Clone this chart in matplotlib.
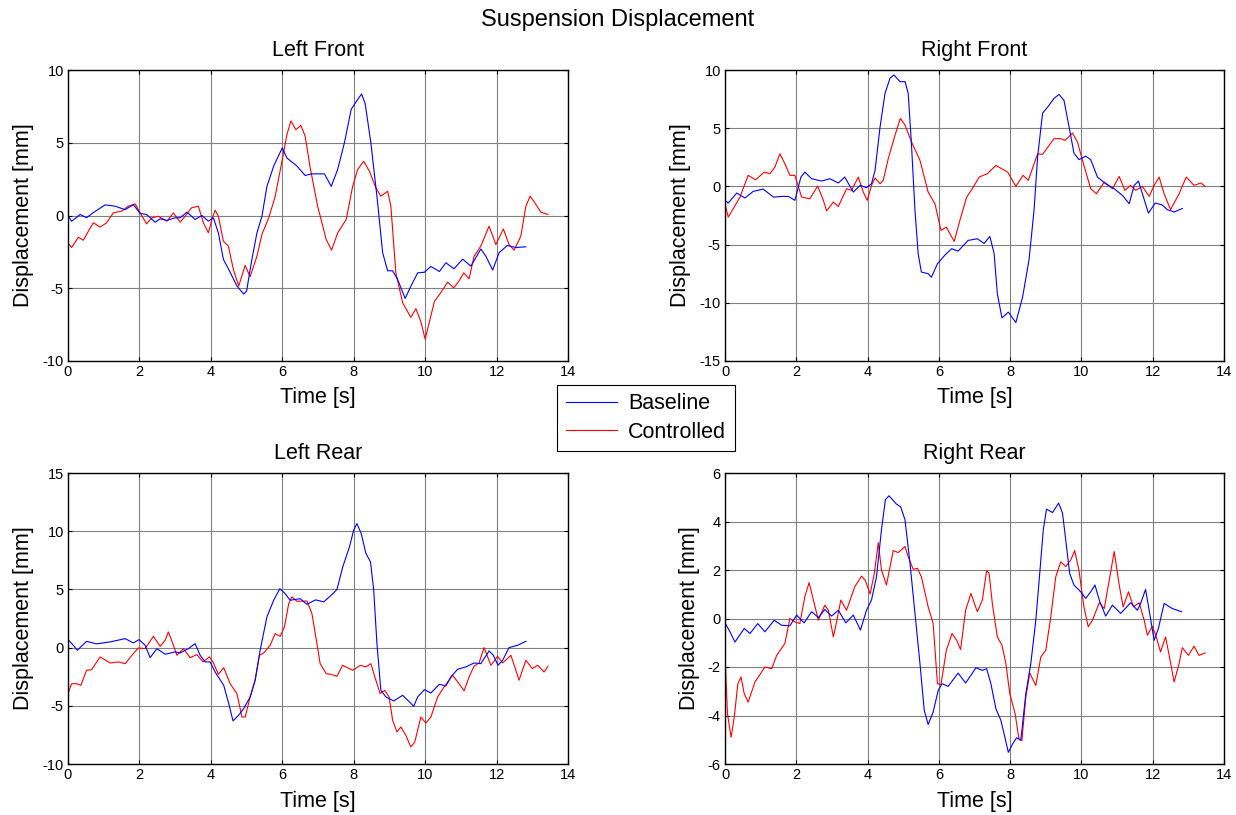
import matplotlib
matplotlib.use("Agg")
import matplotlib.pyplot as plt
from matplotlib.lines import Line2D

plt.rcParams['font.family'] = ['Liberation Sans', 'DejaVu Sans']
plt.rcParams['axes.unicode_minus'] = False

# ---- Left Front ----
lf_base_t = [0, 0.1, 0.34, 0.52, 0.71, 1.04, 1.32, 1.6, 1.83, 2.02, 2.2, 2.44, 2.58, 2.77, 3.0,
             3.14, 3.33, 3.56, 3.75, 3.93, 4.07, 4.21, 4.35, 4.54, 4.73, 4.92, 5.0, 5.15, 5.29,
             5.43, 5.57, 5.76, 6.0, 6.13, 6.41, 6.64, 6.81, 7.18, 7.37, 7.55, 7.74, 7.93, 8.11,
             8.22, 8.32, 8.48, 8.67, 8.81, 8.95, 9.09, 9.23, 9.44, 9.6, 9.79, 9.98, 10.16, 10.4,
             10.58, 10.81, 11.05, 11.28, 11.56, 11.7, 11.89, 12.07, 12.3, 12.54, 12.82]
lf_base_v = [0, -0.4, 0.07, -0.15, 0.2, 0.73, 0.64, 0.4, 0.75, 0.14, 0.07, -0.46, -0.23, -0.34, -0.16,
             -0.16, 0.23, -0.27, 0, -0.39, -0.16, -1.19, -3.0, -3.9, -4.85, -5.4, -5.2, -3.0, -1.2,
             -0.05, 2.0, 3.4, 4.65, 3.95, 3.4, 2.75, 2.86, 2.86, 2.0, 3.16, 5.0, 7.3, 7.97,
             8.35, 7.7, 5.0, 0.87, -2.56, -3.8, -3.8, -4.4, -5.7, -4.86, -3.94, -3.9, -3.5, -3.85,
             -3.25, -3.66, -3.0, -3.48, -2.3, -2.8, -3.75, -2.56, -2.06, -2.2, -2.15]
lf_ctrl_t = [0, 0.1, 0.29, 0.43, 0.57, 0.71, 0.9, 1.08, 1.27, 1.5, 1.69, 1.88, 2.02, 2.2, 2.35,
             2.53, 2.77, 2.95, 3.14, 3.28, 3.46, 3.65, 3.79, 3.93, 4.03, 4.12, 4.21, 4.35, 4.49,
             4.63, 4.78, 4.96, 5.1, 5.29, 5.43, 5.62, 5.8, 6.0, 6.13, 6.24, 6.38, 6.52, 6.64,
             6.78, 6.99, 7.23, 7.38, 7.55, 7.79, 7.97, 8.11, 8.28, 8.44, 8.62, 8.76, 8.95, 9.04,
             9.18, 9.37, 9.6, 9.74, 9.88, 10.0, 10.12, 10.26, 10.44, 10.63, 10.8, 10.95, 11.08,
             11.23, 11.37, 11.56, 11.79, 11.98, 12.19, 12.35, 12.49, 12.68, 12.82, 12.94, 13.07,
             13.24, 13.44]
lf_ctrl_v = [-1.9, -2.2, -1.5, -1.7, -1.08, -0.5, -0.8, -0.5, 0.18, 0.3, 0.64, 0.8, 0.18, -0.57, -0.16,
             -0.05, -0.39, 0.18, -0.46, -0.05, 0.53, 0.64, -0.5, -1.19, -0.27, 0.37, -0.05, -1.76, -2.1,
             -3.7, -4.85, -3.43, -4.2, -2.8, -1.3, -0.16, 1.3, 3.84, 5.56, 6.5, 5.9, 6.2, 5.45,
             3.3, 0.64, -1.65, -2.38, -1.2, -0.27, 2.0, 3.16, 3.73, 3.04, 1.9, 1.33, 1.67, 0.64,
             -3.94, -6.0, -7.0, -6.4, -7.3, -8.5, -7.3, -5.9, -5.3, -4.58, -4.97, -4.5, -3.94,
             -4.35, -2.8, -2.1, -0.73, -2.0, -0.92, -2.0, -2.38, -1.42, 0.64, 1.33, 0.87,
             0.23, 0.07]

# ---- Right Front ----
rf_base_t = [0, 0.09, 0.33, 0.56, 0.79, 1.07, 1.36, 1.59, 1.78, 1.96, 2.13, 2.24, 2.43, 2.71, 2.94,
             3.18, 3.36, 3.6, 3.79, 3.97, 4.11, 4.21, 4.35, 4.49, 4.63, 4.74, 4.91, 5.05, 5.14,
             5.23, 5.33, 5.42, 5.51, 5.7, 5.79, 5.96, 6.17, 6.36, 6.54, 6.82, 7.08, 7.27, 7.43,
             7.55, 7.64, 7.77, 7.95, 8.16, 8.35, 8.53, 8.67, 8.77, 8.91, 9.05, 9.23, 9.37, 9.51,
             9.65, 9.79, 9.93, 10.12, 10.26, 10.45, 10.68, 10.92, 11.15, 11.34, 11.48, 11.6,
             11.71, 11.88, 12.07, 12.27, 12.41, 12.6, 12.83]
rf_base_v = [-1.2, -1.43, -0.57, -1.0, -0.43, -0.23, -0.92, -0.86, -0.86, -1.2, 0.8, 1.23, 0.66, 0.46, 0.66,
             0.29, 0.8, -0.49, 0.09, -0.11, 0.23, 1.38, 5.1, 8.0, 9.3, 9.57, 9.0, 9.0, 8.0,
             3.7, -2.06, -5.8, -7.36, -7.5, -7.8, -6.65, -5.9, -5.35, -5.56, -4.64, -4.5, -4.9, -4.3,
             -5.76, -9.2, -11.3, -10.8, -11.7, -9.5, -6.3, -2.06, 2.5, 6.3, 6.8, 7.56, 7.9, 7.4,
             5.16, 2.86, 2.3, 2.6, 2.3, 0.8, 0.23, -0.2, -0.77, -1.49, 0.09, 0.46,
             -0.63, -2.3, -1.43, -1.6, -2.0, -2.2, -1.9]
rf_ctrl_t = [0, 0.09, 0.23, 0.42, 0.65, 0.86, 1.1, 1.26, 1.4, 1.54, 1.68, 1.82, 1.96, 2.15, 2.38,
             2.6, 2.76, 2.85, 3.04, 3.18, 3.41, 3.55, 3.74, 3.88, 3.99, 4.11, 4.21, 4.35, 4.44,
             4.58, 4.77, 4.92, 5.05, 5.23, 5.47, 5.7, 5.89, 6.06, 6.21, 6.43, 6.59, 6.78, 6.94,
             7.13, 7.36, 7.6, 7.93, 8.16, 8.36, 8.51, 8.77, 8.91, 9.23, 9.42, 9.54, 9.75, 9.89,
             10.07, 10.26, 10.42, 10.64, 10.87, 11.06, 11.22, 11.38, 11.52, 11.71, 11.9, 12.04,
             12.18, 12.32, 12.5, 12.74, 12.94, 13.16, 13.35, 13.47]
rf_ctrl_v = [-1.5, -2.64, -1.92, -0.92, 0.95, 0.57, 1.23, 1.09, 1.66, 2.8, 1.95, 0.95, 0.95, -0.92, -1.06,
             0.03, -1.2, -2.1, -1.35, -1.72, -0.2, -0.34, 0.8, -0.49, -1.2, 0.09, 0.72, 0.23, 0.52,
             2.38, 4.4, 5.84, 5.27, 3.84, 2.24, -0.49, -1.49, -3.78, -3.5, -4.73, -2.92, -0.92, -0.2,
             0.8, 1.09, 1.8, 1.23, 0.0, 0.95, 0.52, 2.8, 2.75, 4.1, 4.1, 3.95, 4.58, 3.8,
             1.8, -0.2, -0.63, 0.37, -0.2, 0.86, -0.34, 0.09, -0.34, 0.0, -0.86, 0.09,
             0.8, -0.63, -2.0, -0.63, 0.8, 0.09, 0.29, 0.0]

# ---- Left Rear ----
lr_base_t = [0, 0.15, 0.26, 0.52, 0.8, 1.18, 1.6, 1.83, 1.99, 2.16, 2.3, 2.49, 2.72, 3.0, 3.14,
             3.37, 3.56, 3.7, 3.84, 3.98, 4.12, 4.36, 4.5, 4.62, 4.78, 4.92, 5.1, 5.24, 5.38,
             5.57, 5.76, 5.93, 6.08, 6.22, 6.5, 6.69, 6.93, 7.16, 7.37, 7.53, 7.69, 7.88, 8.0,
             8.09, 8.21, 8.34, 8.47, 8.56, 8.65, 8.76, 8.9, 9.12, 9.37, 9.56, 9.68, 9.79, 9.98,
             10.16, 10.4, 10.58, 10.72, 10.91, 11.14, 11.37, 11.56, 11.79, 11.91, 12.04, 12.17,
             12.35, 12.59, 12.82]
lr_base_v = [0.69, 0.2, -0.23, 0.54, 0.32, 0.49, 0.77, 0.4, 0.69, 0.2, -0.86, -0.09, -0.57, -0.37, -0.46,
             -0.09, 0.34, -0.66, -1.23, -1.23, -2.1, -3.24, -4.8, -6.3, -5.8, -5.24, -4.24, -2.8, -0.23,
             2.64, 4.07, 5.06, 4.64, 4.07, 4.2, 3.72, 4.1, 3.93, 4.5, 4.99, 6.9, 8.65, 10.1,
             10.66, 9.8, 8.1, 7.36, 4.93, 0.34, -3.67, -4.24, -4.58, -4.1, -4.67, -5.04, -4.24, -3.61,
             -3.9, -3.15, -3.3, -2.52, -1.86, -1.66, -1.32, -1.38, -0.29, -0.66, -1.52, -1.09,
             0.0, 0.2, 0.54]
lr_ctrl_t = [0, 0.1, 0.24, 0.36, 0.52, 0.66, 0.9, 1.18, 1.41, 1.6, 1.79, 1.97, 2.16, 2.39, 2.58,
             2.72, 2.81, 2.9, 3.05, 3.23, 3.42, 3.61, 3.78, 3.96, 4.06, 4.21, 4.36, 4.54, 4.73,
             4.87, 4.96, 5.1, 5.24, 5.36, 5.48, 5.66, 5.8, 5.94, 6.06, 6.18, 6.27, 6.41, 6.69,
             6.83, 6.97, 7.06, 7.23, 7.37, 7.53, 7.69, 7.97, 8.19, 8.34, 8.48, 8.62, 8.74, 8.87,
             8.99, 9.09, 9.21, 9.32, 9.46, 9.6, 9.71, 9.88, 10.02, 10.16, 10.35, 10.53, 10.77,
             10.95, 11.09, 11.23, 11.37, 11.51, 11.65, 11.84, 12.03, 12.17, 12.4, 12.51, 12.63,
             12.82, 13.0, 13.15, 13.33, 13.44]
lr_ctrl_v = [-3.95, -3.1, -3.1, -3.24, -1.95, -1.9, -0.8, -1.32, -1.23, -1.38, -0.66, -0.03, -0.09, 0.97, 0.11,
             0.63, 1.35, 0.63, -0.66, -0.09, -0.86, -0.6, -1.23, -0.8, -1.23, -2.3, -1.72, -3.1, -3.95,
             -5.96, -5.96, -4.24, -2.8, -0.66, -0.46, 0.2, 1.2, 0.97, 1.78, 3.78, 4.36, 3.98, 4.0,
             2.92, 0.34, -1.38, -2.24, -2.3, -2.47, -1.52, -1.95, -1.52, -1.66, -1.38, -2.8, -3.95, -3.67,
             -4.24, -6.25, -7.25, -6.82, -7.54, -8.54, -8.11, -5.96, -6.48, -5.96, -4.24, -3.38, -2.38,
             -3.1, -3.72, -2.52, -1.6, -1.32, 0.0, -1.52, -0.75, -1.32, -0.66, -1.66, -2.8,
             -1.09, -1.8, -1.52, -2.09, -1.6]

# ---- Right Rear ----
rr_base_t = [0, 0.14, 0.28, 0.54, 0.7, 0.92, 1.12, 1.38, 1.59, 1.82, 2.01, 2.22, 2.43, 2.62, 2.8,
             2.99, 3.18, 3.39, 3.6, 3.8, 3.97, 4.11, 4.25, 4.39, 4.5, 4.6, 4.81, 4.93, 5.05,
             5.19, 5.33, 5.47, 5.59, 5.7, 5.84, 5.98, 6.09, 6.26, 6.54, 6.75, 6.9, 7.04, 7.22,
             7.34, 7.46, 7.6, 7.74, 7.83, 7.95, 8.07, 8.18, 8.3, 8.44, 8.58, 8.72, 8.83, 8.93,
             9.02, 9.19, 9.36, 9.47, 9.56, 9.67, 9.79, 9.98, 10.12, 10.26, 10.38, 10.5, 10.68,
             10.87, 11.1, 11.38, 11.57, 11.66, 11.8, 11.9, 12.04, 12.16, 12.32, 12.55, 12.81]
rr_base_v = [-0.18, -0.55, -0.97, -0.41, -0.62, -0.21, -0.55, -0.07, -0.28, -0.3, 0.14, -0.18, 0.28, 0.04, 0.37,
             0.1, 0.34, -0.18, 0.14, -0.48, 0.34, 0.76, 1.72, 3.66, 4.9, 5.06, 4.72, 4.6, 4.07,
             2.28, 0.21, -1.86, -3.79, -4.37, -3.86, -2.97, -2.69, -2.8, -2.25, -2.66, -2.34, -2.03, -2.14,
             -2.07, -2.69, -3.72, -4.2, -4.76, -5.52, -5.17, -4.92, -5.0, -3.1, -1.86, -0.07, 1.86, 3.66,
             4.51, 4.37, 4.76, 4.34, 3.24, 1.86, 1.38, 1.1, 0.83, 1.1, 1.38, 0.76, 0.1,
             0.55, 0.21, 0.65, 0.34, 0.62, 1.2, 0.34, -0.9, -0.41, 0.62, 0.41, 0.28]
rr_ctrl_t = [0, 0.07, 0.17, 0.26, 0.36, 0.45, 0.54, 0.65, 0.84, 1.12, 1.31, 1.45, 1.68, 1.82, 1.96,
             2.1, 2.24, 2.36, 2.48, 2.62, 2.8, 2.9, 3.04, 3.13, 3.25, 3.41, 3.64, 3.83, 3.94,
             4.07, 4.19, 4.3, 4.39, 4.53, 4.72, 4.86, 5.05, 5.14, 5.28, 5.4, 5.51, 5.7, 5.84,
             5.96, 6.06, 6.21, 6.37, 6.5, 6.61, 6.75, 6.9, 7.08, 7.22, 7.34, 7.41, 7.5, 7.64,
             7.77, 7.88, 7.99, 8.14, 8.25, 8.33, 8.44, 8.55, 8.72, 8.86, 9.0, 9.14, 9.28, 9.42,
             9.56, 9.7, 9.81, 9.93, 10.07, 10.19, 10.31, 10.5, 10.64, 10.78, 10.92, 11.06, 11.17,
             11.32, 11.46, 11.62, 11.76, 11.85, 11.99, 12.1, 12.22, 12.36, 12.48, 12.6, 12.74,
             12.83, 13.0, 13.16, 13.3, 13.47]
rr_ctrl_v = [-1.52, -3.93, -4.9, -4.07, -2.69, -2.41, -3.1, -3.45, -2.62, -2.0, -2.07, -1.52, -1.03, 0.0, -0.14,
             -0.21, 0.9, 1.48, 0.76, -0.07, 0.55, 0.34, -0.76, -0.14, 0.76, 0.34, 1.31, 1.75, 1.56,
             1.01, 1.86, 3.13, 2.0, 1.38, 2.8, 2.72, 2.97, 2.55, 2.03, 2.07, 1.72, 0.48, -0.21,
             -2.69, -2.72, -1.31, -0.62, -0.9, -1.28, 0.34, 1.03, 0.28, 0.76, 1.97, 1.86, 0.62, -0.76,
             -1.1, -1.86, -3.1, -3.93, -5.0, -5.03, -3.24, -2.25, -2.76, -1.59, -1.31, 0.07, 1.72, 2.34,
             2.14, 2.41, 2.8, 2.0, 0.48, -0.34, -0.07, 0.65, 0.41, 1.58, 2.76, 1.38, 0.48,
             1.1, 0.48, 0.65, -0.07, -0.69, -0.32, -0.76, -1.38, -0.76, -1.66, -2.62, -1.86,
             -1.2, -1.52, -1.14, -1.52, -1.42]

titles = ["Left Front", "Right Front", "Left Rear", "Right Rear"]
ylims = [(-10, 10), (-15, 10), (-10, 15), (-6, 6)]
ysteps = [5, 5, 5, 2]

series = [
    (lf_base_t, lf_base_v, lf_ctrl_t, lf_ctrl_v),
    (rf_base_t, rf_base_v, rf_ctrl_t, rf_ctrl_v),
    (lr_base_t, lr_base_v, lr_ctrl_t, lr_ctrl_v),
    (rr_base_t, rr_base_v, rr_ctrl_t, rr_ctrl_v),
]

W, H = 1236, 815
# axes boxes in pixels: left, top, right, bottom
boxes = [(68, 70, 568, 361), (725, 70, 1224, 361),
         (68, 473, 568, 764), (725, 473, 1224, 764)]

fig = plt.figure(figsize=(W / 100, H / 100), dpi=100)

for i, (bt, bv, ct, cv) in enumerate(series):
    l, t, r, b = boxes[i]
    ax = fig.add_axes([l / W, 1 - b / H, (r - l) / W, (b - t) / H])
    ax.plot(ct, cv, color='red', lw=0.8)
    ax.plot(bt, bv, color='blue', lw=0.8)
    ax.set_xlim(0, 14)
    ax.set_xticks(range(0, 15, 2))
    lo, hi = ylims[i]
    ax.set_ylim(lo, hi)
    ax.set_yticks(range(lo, hi + 1, ysteps[i]))
    ax.grid(True, color='#808080', lw=0.8)
    ax.set_axisbelow(True)
    ax.tick_params(direction='in', length=3, top=True, right=True, labelsize=10.5, pad=3)
    for s in ax.spines.values():
        s.set_linewidth(1.0)
    ax.set_title(titles[i], fontsize=15.5, pad=10)
    ax.set_xlabel("Time [s]", fontsize=15.5, labelpad=6)
    ax.set_ylabel("Displacement [mm]", fontsize=15.5, labelpad=6)

fig.suptitle("Suspension Displacement", fontsize=17, y=1 - 20 / H, va='center')

handles = [Line2D([], [], color='blue', lw=0.8), Line2D([], [], color='red', lw=0.8)]
leg = fig.legend(handles, ["Baseline", "Controlled"], loc='center',
                 bbox_to_anchor=(646 / W, 1 - 418 / H), fontsize=15.5,
                 fancybox=False, framealpha=1, edgecolor='black',
                 handlelength=2.4, borderpad=0.4, labelspacing=0.35, handletextpad=0.5)
leg.get_frame().set_linewidth(0.8)

fig.savefig("out.png", dpi=100)
